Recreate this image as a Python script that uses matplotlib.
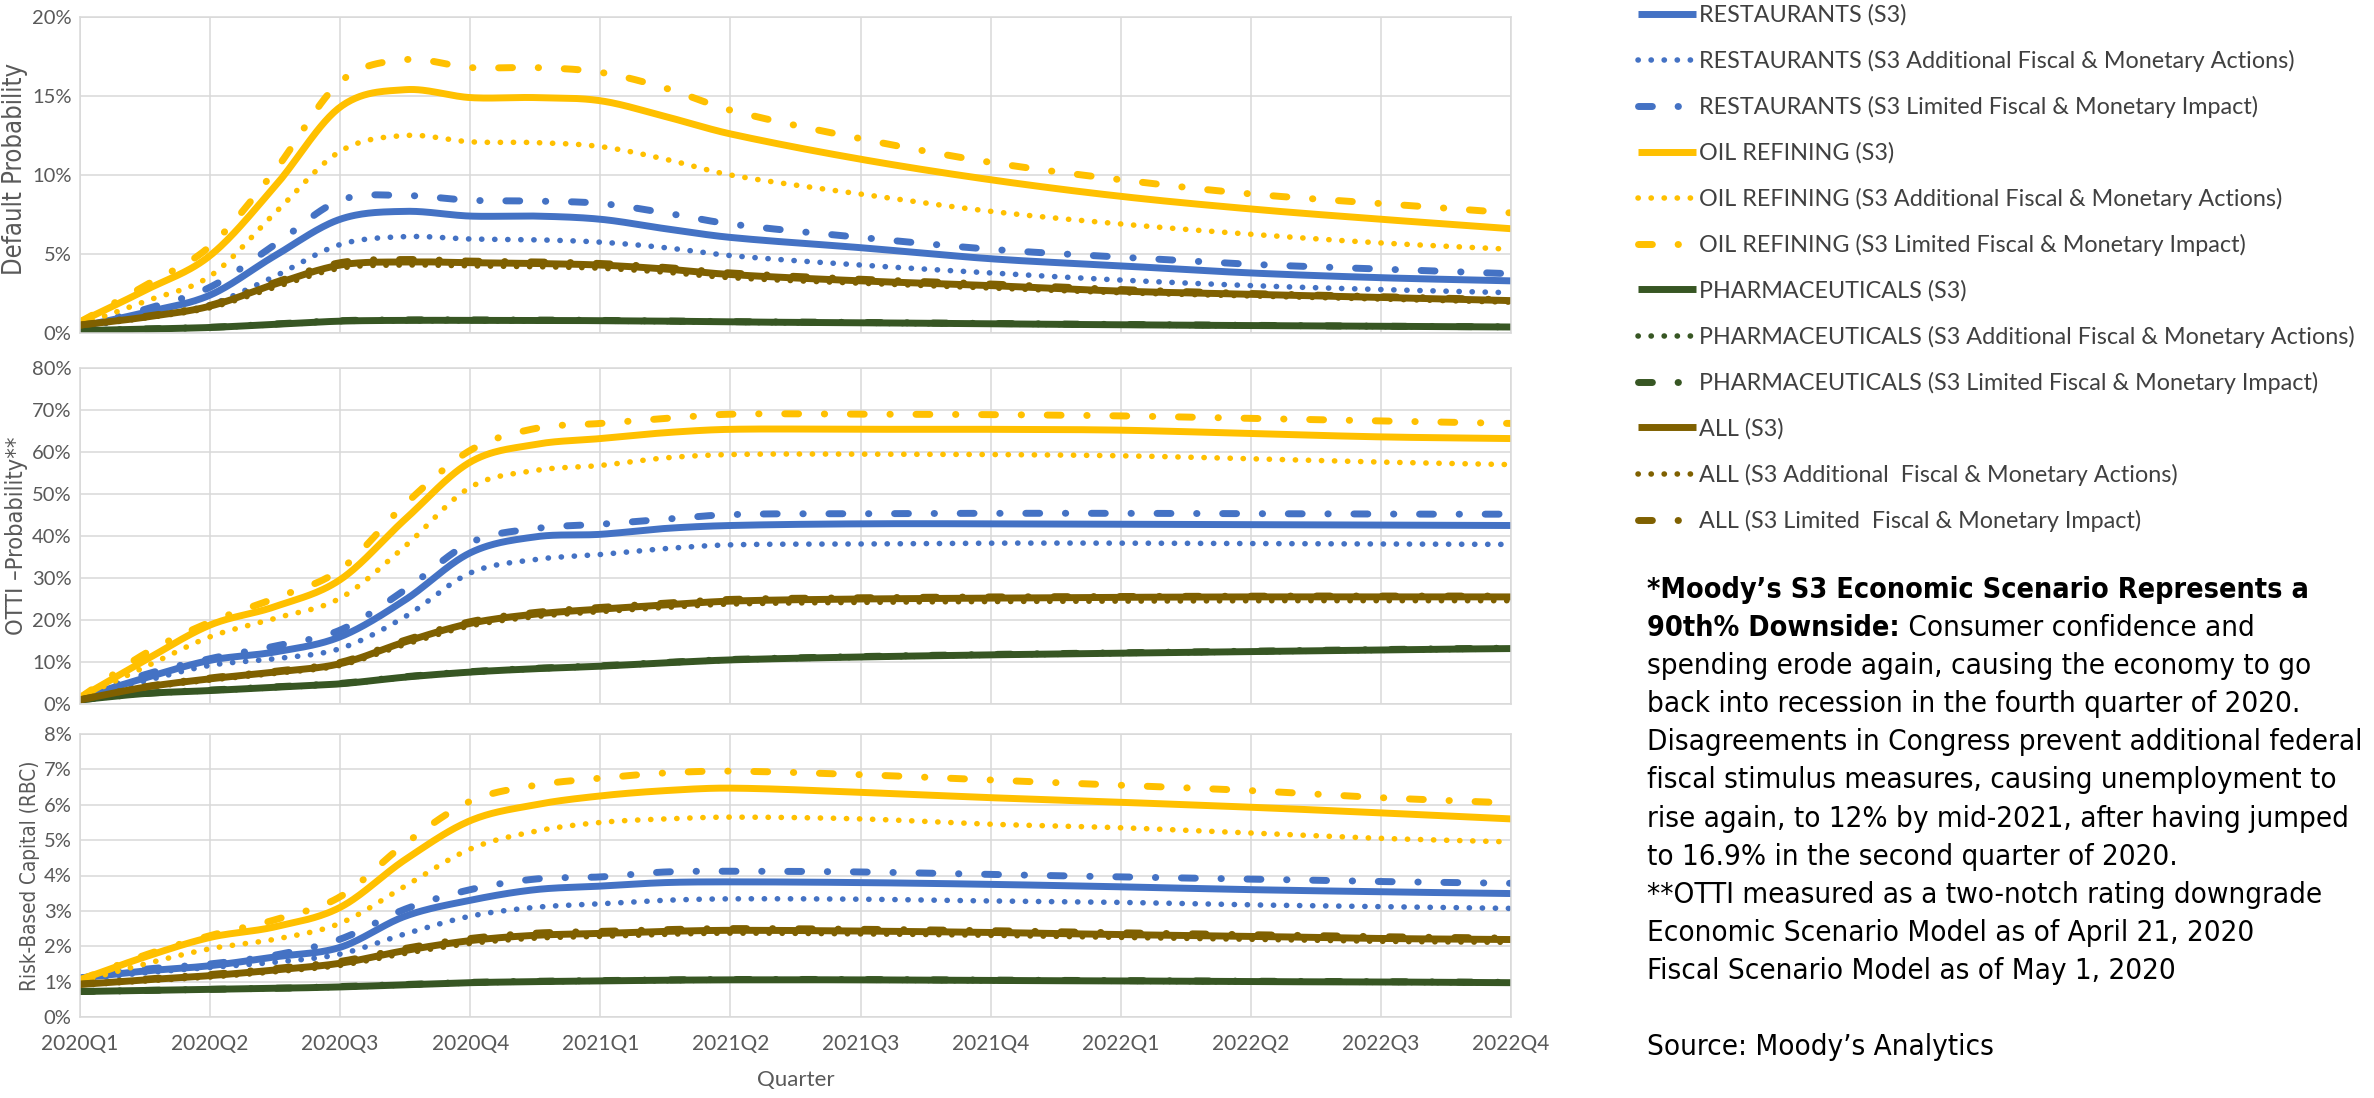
import os
import numpy as np
import matplotlib
matplotlib.use("Agg")
import matplotlib.pyplot as plt
from matplotlib import font_manager
from matplotlib.font_manager import FontProperties
from matplotlib.ticker import PercentFormatter, MultipleLocator

# ---------------- data ----------------
quarters = ["2020Q1", "2020Q2", "2020Q3", "2020Q4", "2021Q1", "2021Q2",
            "2021Q3", "2021Q4", "2022Q1", "2022Q2", "2022Q3", "2022Q4"]
# time of each reading, in quarters after 2020Q1
t = [0, 0.5, 1, 1.5, 2, 2.5, 3, 3.5, 4, 4.5, 5, 6, 7, 8, 9, 10, 11]

labels = [
    "RESTAURANTS (S3)",
    "RESTAURANTS (S3 Additional Fiscal & Monetary Actions)",
    "RESTAURANTS (S3 Limited Fiscal & Monetary Impact)",
    "OIL REFINING (S3)",
    "OIL REFINING (S3 Additional Fiscal & Monetary Actions)",
    "OIL REFINING (S3 Limited Fiscal & Monetary Impact)",
    "PHARMACEUTICALS (S3)",
    "PHARMACEUTICALS (S3 Additional Fiscal & Monetary Actions)",
    "PHARMACEUTICALS (S3 Limited Fiscal & Monetary Impact)",
    "ALL (S3)",
    "ALL (S3 Additional  Fiscal & Monetary Actions)",
    "ALL (S3 Limited  Fiscal & Monetary Impact)",
]

# Default probability (%)
dp_rest_s3 = [0.4, 1.3, 2.4, 4.9, 7.2, 7.7, 7.4, 7.4, 7.2, 6.6, 6.05, 5.4, 4.7, 4.25, 3.8, 3.5, 3.3]
dp_rest_add = [0.35, 1.0, 1.8, 3.6, 5.6, 6.1, 5.95, 5.9, 5.75, 5.4, 4.9, 4.3, 3.8, 3.35, 3.0, 2.75, 2.55]
dp_rest_lim = [0.4, 1.5, 2.9, 5.6, 8.4, 8.7, 8.4, 8.35, 8.2, 7.6, 6.9, 6.05, 5.3, 4.8, 4.35, 4.05, 3.75]
dp_oil_s3 = [0.7, 2.7, 4.9, 9.3, 14.3, 15.4, 14.9, 14.9, 14.7, 13.7, 12.6, 11.0, 9.7, 8.65, 7.85, 7.2, 6.6]
dp_oil_add = [0.5, 2.0, 3.6, 7.6, 11.5, 12.5, 12.1, 12.05, 11.8, 11.0, 10.0, 8.8, 7.7, 6.9, 6.25, 5.7, 5.3]
dp_oil_lim = [0.7, 3.0, 5.5, 10.3, 15.9, 17.3, 16.8, 16.8, 16.5, 15.5, 14.1, 12.3, 10.8, 9.7, 8.8, 8.2, 7.6]
dp_pha_s3 = [0.15, 0.25, 0.35, 0.55, 0.75, 0.8, 0.8, 0.8, 0.78, 0.75, 0.7, 0.65, 0.58, 0.52, 0.47, 0.42, 0.38]
dp_pha_add = [0.15, 0.24, 0.33, 0.52, 0.72, 0.77, 0.77, 0.77, 0.75, 0.72, 0.67, 0.62, 0.56, 0.5, 0.45, 0.4, 0.36]
dp_pha_lim = [0.15, 0.26, 0.36, 0.57, 0.78, 0.83, 0.83, 0.83, 0.8, 0.77, 0.72, 0.67, 0.6, 0.54, 0.48, 0.43, 0.39]
dp_all_s3 = [0.5, 1.0, 1.7, 3.1, 4.3, 4.5, 4.45, 4.4, 4.3, 4.05, 3.7, 3.3, 3.0, 2.65, 2.45, 2.25, 2.05]
dp_all_add = [0.45, 0.95, 1.6, 2.9, 4.1, 4.3, 4.25, 4.2, 4.1, 3.85, 3.5, 3.15, 2.85, 2.55, 2.35, 2.15, 1.95]
dp_all_lim = [0.5, 1.05, 1.75, 3.2, 4.45, 4.65, 4.55, 4.5, 4.4, 4.15, 3.8, 3.4, 3.1, 2.75, 2.5, 2.3, 2.1]

# OTTI probability (%)
ot_rest_s3 = [1.5, 6.2, 10.4, 12.4, 16.0, 24.8, 36.0, 39.8, 40.4, 41.8, 42.5, 42.9, 42.9, 42.8, 42.7, 42.6, 42.5]
ot_rest_add = [1.5, 5.5, 9.2, 10.8, 13.2, 20.8, 31.2, 34.4, 35.6, 37.0, 37.9, 38.1, 38.3, 38.3, 38.2, 38.1, 38.0]
ot_rest_lim = [1.5, 7.0, 10.8, 13.8, 17.6, 27.2, 38.4, 41.8, 42.8, 44.0, 45.1, 45.3, 45.4, 45.4, 45.3, 45.2, 45.2]
ot_oil_s3 = [1.5, 10.4, 18.8, 23.2, 29.6, 44.0, 57.6, 61.8, 63.2, 64.6, 65.4, 65.4, 65.4, 65.2, 64.4, 63.6, 63.2]
ot_oil_add = [1.5, 8.8, 16.0, 20.4, 25.2, 37.6, 51.6, 55.6, 56.8, 58.6, 59.4, 59.5, 59.4, 59.1, 58.4, 57.6, 57.0]
ot_oil_lim = [1.5, 12.0, 19.5, 25.2, 32.0, 47.6, 60.4, 65.6, 66.8, 68.0, 69.0, 69.0, 68.9, 68.6, 68.0, 67.4, 66.8]
ot_pha_s3 = [1.0, 2.5, 3.2, 4.0, 4.8, 6.4, 7.6, 8.4, 9.0, 9.8, 10.5, 11.2, 11.7, 12.1, 12.5, 12.9, 13.2]
ot_pha_add = [1.0, 2.4, 3.1, 3.9, 4.7, 6.3, 7.5, 8.3, 8.9, 9.7, 10.4, 11.1, 11.6, 12.0, 12.4, 12.8, 13.1]
ot_pha_lim = [1.0, 2.5, 3.3, 4.1, 4.9, 6.5, 7.7, 8.5, 9.1, 9.9, 10.6, 11.3, 11.8, 12.2, 12.6, 13.0, 13.3]
ot_all_s3 = [1.0, 4.0, 6.0, 7.6, 9.6, 14.8, 19.2, 21.4, 22.6, 23.6, 24.5, 25.0, 25.2, 25.4, 25.5, 25.5, 25.5]
ot_all_add = [1.0, 3.8, 5.7, 7.3, 9.2, 14.2, 18.6, 20.8, 22.0, 23.0, 23.8, 24.2, 24.4, 24.5, 24.6, 24.6, 24.6]
ot_all_lim = [1.0, 4.1, 6.2, 7.8, 9.9, 15.2, 19.6, 21.8, 23.0, 24.0, 24.9, 25.3, 25.5, 25.6, 25.7, 25.7, 25.7]

# Risk-based capital (%)
rb_rest_s3 = [1.1, 1.3, 1.45, 1.7, 1.97, 2.85, 3.3, 3.6, 3.7, 3.8, 3.82, 3.8, 3.75, 3.68, 3.6, 3.54, 3.49]
rb_rest_add = [1.05, 1.25, 1.4, 1.55, 1.78, 2.35, 2.85, 3.1, 3.2, 3.3, 3.34, 3.33, 3.28, 3.24, 3.17, 3.12, 3.07]
rb_rest_lim = [1.1, 1.35, 1.5, 1.75, 2.2, 3.05, 3.6, 3.9, 3.96, 4.1, 4.12, 4.1, 4.03, 3.96, 3.9, 3.83, 3.78]
rb_oil_s3 = [1.05, 1.7, 2.25, 2.55, 3.1, 4.45, 5.55, 6.0, 6.25, 6.4, 6.47, 6.35, 6.2, 6.07, 5.93, 5.77, 5.6]
rb_oil_add = [1.0, 1.5, 1.93, 2.2, 2.65, 3.7, 4.75, 5.25, 5.5, 5.6, 5.65, 5.6, 5.45, 5.35, 5.2, 5.05, 4.95]
rb_oil_lim = [1.05, 1.75, 2.3, 2.75, 3.4, 4.9, 6.1, 6.55, 6.75, 6.9, 6.95, 6.85, 6.7, 6.55, 6.4, 6.2, 6.05]
rb_pha_s3 = [0.72, 0.75, 0.78, 0.81, 0.85, 0.91, 0.97, 1.0, 1.02, 1.04, 1.05, 1.05, 1.03, 1.02, 1.0, 0.99, 0.97]
rb_pha_add = [0.72, 0.75, 0.78, 0.8, 0.84, 0.9, 0.96, 0.99, 1.01, 1.03, 1.04, 1.04, 1.02, 1.01, 0.99, 0.98, 0.96]
rb_pha_lim = [0.72, 0.75, 0.78, 0.81, 0.86, 0.92, 0.98, 1.01, 1.03, 1.05, 1.06, 1.06, 1.04, 1.03, 1.01, 1.0, 0.98]
rb_all_s3 = [0.92, 1.05, 1.17, 1.33, 1.52, 1.88, 2.16, 2.31, 2.36, 2.42, 2.45, 2.43, 2.39, 2.33, 2.28, 2.22, 2.19]
rb_all_add = [0.9, 1.02, 1.13, 1.28, 1.46, 1.8, 2.08, 2.23, 2.28, 2.34, 2.37, 2.35, 2.31, 2.25, 2.2, 2.14, 2.11]
rb_all_lim = [0.93, 1.07, 1.2, 1.37, 1.57, 1.94, 2.22, 2.37, 2.42, 2.47, 2.5, 2.48, 2.44, 2.38, 2.33, 2.27, 2.23]

ylabels = ["Default Probability", "OTTI \u2013Probability**", "Risk-Based Capital (RBC)"]
ymaxes = [20, 80, 8]
ysteps = [5, 10, 1]
panel_series = [
    [dp_rest_s3, dp_rest_add, dp_rest_lim, dp_oil_s3, dp_oil_add, dp_oil_lim,
     dp_pha_s3, dp_pha_add, dp_pha_lim, dp_all_s3, dp_all_add, dp_all_lim],
    [ot_rest_s3, ot_rest_add, ot_rest_lim, ot_oil_s3, ot_oil_add, ot_oil_lim,
     ot_pha_s3, ot_pha_add, ot_pha_lim, ot_all_s3, ot_all_add, ot_all_lim],
    [rb_rest_s3, rb_rest_add, rb_rest_lim, rb_oil_s3, rb_oil_add, rb_oil_lim,
     rb_pha_s3, rb_pha_add, rb_pha_lim, rb_all_s3, rb_all_add, rb_all_lim],
]

note_bold_1 = "*Moody\u2019s S3 Economic Scenario Represents a"
note_bold_2 = "90th% Downside:"
note_rest_2 = " Consumer confidence and"
note_lines = [
    "spending erode again, causing the economy to go",
    "back into recession in the fourth quarter of 2020.",
    "Disagreements in Congress prevent additional federal",
    "fiscal stimulus measures, causing unemployment to",
    "rise again, to 12% by mid-2021, after having jumped",
    "to 16.9% in the second quarter of 2020.",
    "**OTTI measured as a two-notch rating downgrade",
    "Economic Scenario Model as of April 21, 2020",
    "Fiscal Scenario Model as of May 1, 2020",
    "",
    "Source: Moody\u2019s Analytics",
]

# ---------------- styling ----------------
colors = ["#4472C4"] * 3 + ["#FFC000"] * 3 + ["#375623"] * 3 + ["#7F6000"] * 3
styles = [
    dict(lw=5.0, solid_capstyle="butt"),
    dict(lw=4.0, dashes=(0.05, 2.3), dash_capstyle="round"),
    dict(lw=5.0, dashes=(2.0, 3.7, 0.05, 3.7), dash_capstyle="round"),
] * 4

GRID = "#D9D9D9"
TXT = "#595959"
TICKFONT = ["Lato", "DejaVu Sans"]


def find_font(keys):
    files = [f.fname for f in font_manager.fontManager.ttflist]
    for key in keys:
        for fn in files:
            if os.path.basename(fn).lower() == key.lower():
                return fn
    return None


_nr = find_font(["LiberationSansNarrow-Regular.ttf", "DejaVuSansCondensed.ttf"])
_nb = find_font(["LiberationSansNarrow-Bold.ttf", "DejaVuSansCondensed-Bold.ttf"])


def narrow(bold=False):
    fn = _nb if bold else _nr
    if fn:
        return FontProperties(fname=fn)
    return FontProperties(family="Liberation Sans", weight="bold" if bold else "normal")


def smooth(x, y, n=30):
    """Smoothed (Hermite) curve through the data points, like Excel's smoothed line."""
    x = np.asarray(x, float)
    y = np.asarray(y, float)
    m = np.empty_like(y)
    m[1:-1] = (y[2:] - y[:-2]) / (x[2:] - x[:-2])
    m[0] = (y[1] - y[0]) / (x[1] - x[0])
    m[-1] = (y[-1] - y[-2]) / (x[-1] - x[-2])
    s = np.linspace(0, 1, n, endpoint=False)
    h00 = 2 * s**3 - 3 * s**2 + 1
    h10 = s**3 - 2 * s**2 + s
    h01 = -2 * s**3 + 3 * s**2
    h11 = s**3 - s**2
    xs, ys = [], []
    for i in range(len(x) - 1):
        h = x[i + 1] - x[i]
        xs.append(x[i] + s * h)
        ys.append(h00 * y[i] + h10 * h * m[i] + h01 * y[i + 1] + h11 * h * m[i + 1])
    xs.append([x[-1]])
    ys.append([y[-1]])
    return np.concatenate(xs), np.concatenate(ys)


W, H = 2374, 1098
fig = plt.figure(figsize=(W / 100, H / 100), dpi=100)
renderer = fig.canvas.get_renderer()


def fit(txt, target_px):
    bb = txt.get_window_extent(renderer)
    length = max(bb.width, bb.height)
    txt.set_fontsize(txt.get_fontsize() * target_px / length)
    return txt.get_fontsize()


# axes rectangles in pixels: (top, bottom)
rects = [(17, 333), (368, 704), (734, 1017)]
x0, x1 = 80, 1511
label_center = [0.52, 0.5, 0.5]
label_len = [212, 198, 232]         # px along the axis

axes = []
handles = []
for k in range(3):
    top, bot = rects[k]
    ax = fig.add_axes([x0 / W, 1 - bot / H, (x1 - x0) / W, (bot - top) / H])
    axes.append(ax)
    for vals, c, st in zip(panel_series[k], colors, styles):
        xs, ys = smooth(t, vals)
        ln, = ax.plot(xs, ys, color=c, **st)
        if k == 0:
            handles.append(ln)
    ax.set_xlim(0, len(quarters) - 1)
    ax.set_ylim(0, ymaxes[k])
    ax.yaxis.set_major_locator(MultipleLocator(ysteps[k]))
    ax.yaxis.set_major_formatter(PercentFormatter(xmax=100, decimals=0))
    ax.set_xticks(range(len(quarters)))
    if k == 2:
        ax.set_xticklabels(quarters)
        ax.set_xlabel("Quarter", fontsize=16, color=TXT, family=TICKFONT, labelpad=12)
    else:
        ax.set_xticklabels([])
    ax.grid(True, color=GRID, lw=1.1)
    ax.set_axisbelow(True)
    for sp in ax.spines.values():
        sp.set_color(GRID)
        sp.set_linewidth(1.1)
    ax.tick_params(length=0, labelsize=14.5, labelcolor=TXT, pad=6)
    ax.tick_params(axis="x", pad=12, labelsize=15)
    for lab in ax.get_xticklabels() + ax.get_yticklabels():
        lab.set_family(TICKFONT)

fig.canvas.draw()
for k, ax in enumerate(axes):
    axbb = ax.get_window_extent(renderer)
    lefts = []
    for tl in ax.get_yticklabels():
        if not tl.get_text():
            continue
        e = tl.get_window_extent(renderer)
        if e.width > 0 and e.x0 > 2 and axbb.y0 - 25 <= (e.y0 + e.y1) / 2 <= axbb.y1 + 25:
            lefts.append(e.x0)
    tick_left = min(lefts) if lefts else x0 - 50
    yl = ax.set_ylabel(ylabels[k], color=TXT, fontproperties=narrow())
    yl.set_fontsize(18)
    fit(yl, label_len[k])
    right = tick_left - 4
    thick = yl.get_window_extent(renderer).width
    if thick > right - 0.5:
        yl.set_fontsize(yl.get_fontsize() * (right - 0.5) / thick)
    ax.yaxis.set_label_coords((right - x0) / (x1 - x0), label_center[k])

# ---------------- legend ----------------
def make_legend(fs, spacing, hl, pad, top_px):
    return fig.legend(handles, labels, loc="upper left",
                      bbox_to_anchor=(1638 / W, 1 - top_px / H),
                      frameon=False, prop={"family": TICKFONT, "size": fs},
                      handlelength=hl, handletextpad=pad, labelspacing=spacing,
                      borderpad=0, borderaxespad=0)

leg = make_legend(14, 1.0, 3.0, 0.15, 2)
fs_leg = fit(leg.get_texts()[1], 598)
leg.remove()
fs_px = fs_leg * 100 / 72
leg = make_legend(fs_leg, 1.0, 3.0, 0.15, 2)
th = leg.get_texts()[0].get_window_extent(renderer).height
leg.remove()
leg = make_legend(fs_leg, (45.6 - th) / fs_px, 58 / fs_px, 3 / fs_px, 15 - th / 2)
for tx in leg.get_texts():
    tx.set_color("#404040")

# ---------------- notes text ----------------
nx = 1647 / W
base0 = 598
dy = 38.1
tb1 = fig.text(nx, 1 - base0 / H, note_bold_1, fontproperties=narrow(True),
               va="baseline", color="black")
tb1.set_fontsize(20)
fs_bold = fit(tb1, 662)
tr = fig.text(nx, 1 - (base0 + 2 * dy) / H, note_lines[0], fontproperties=narrow(),
              va="baseline", color="black")
tr.set_fontsize(20)
fs_reg = fit(tr, 664)
tb2 = fig.text(nx, 1 - (base0 + dy) / H, note_bold_2, fontproperties=narrow(True),
               va="baseline", color="black")
tb2.set_fontsize(fs_bold)
xr = tb2.get_window_extent(renderer).x1
t2 = fig.text(xr / W, 1 - (base0 + dy) / H, note_rest_2, fontproperties=narrow(),
              va="baseline", color="black")
t2.set_fontsize(fs_reg)
for i, line in enumerate(note_lines[1:], start=3):
    if line:
        tl = fig.text(nx, 1 - (base0 + i * dy) / H, line, fontproperties=narrow(),
                      va="baseline", color="black")
        tl.set_fontsize(fs_reg)

fig.savefig("out.png", dpi=100)
